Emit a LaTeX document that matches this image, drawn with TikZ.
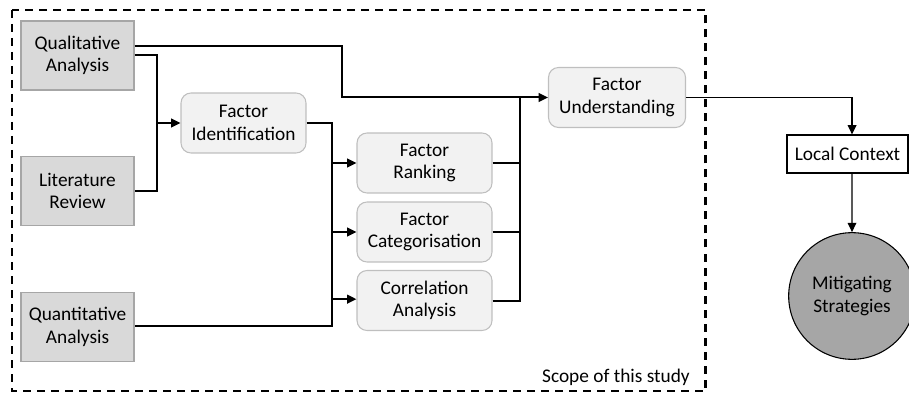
\documentclass[tikz,border=0pt]{standalone}
\usepackage{fontspec}
\setmainfont{Carlito}
\usetikzlibrary{arrows.meta,calc}
\definecolor{srcfill}{HTML}{D9D9D9}
\definecolor{srcdraw}{HTML}{A6A6A6}
\definecolor{procfill}{HTML}{F2F2F2}
\definecolor{procdraw}{HTML}{BFBFBF}
\definecolor{circfill}{HTML}{A6A6A6}
\begin{document}
\begin{tikzpicture}[x=0.75pt,y=-0.75pt,
  every node/.style={font=\fontsize{14.5}{16.8}\selectfont, align=center, inner sep=0pt},
  srcbox/.style={draw=srcdraw, fill=srcfill, line width=0.8pt, minimum width=84.75pt, minimum height=51.75pt},
  procbox/.style={draw=procdraw, fill=procfill, line width=0.8pt, rounded corners=7.5pt, minimum height=45pt},
  conn/.style={line width=1.5pt, black},
  arr/.style={conn, -{Triangle[length=7pt,width=6.5pt]}},
  thinarr/.style={line width=1pt, -{Triangle[length=7pt,width=6.5pt]}}
]
\useasboundingbox (0,0) rectangle (909,395);
\draw[line width=1.6pt, dash pattern=on 6pt off 4.5pt] (12,10) rectangle (705.5,391);

\node[srcbox] (qual) at (77.5,55.5) {Qualitative\\Analysis};
\node[srcbox] (lit) at (77.5,191) {Literature\\Review};
\node[srcbox] (quant) at (77.5,327) {Quantitative\\Analysis};

\node[procbox, minimum width=93.75pt] (fid) at (243.5,123) {Factor\\Identification};
\node[procbox, minimum width=101.25pt] (frank) at (424.5,163) {Factor\\Ranking};
\node[procbox, minimum width=101.25pt] (fcat) at (424.5,232) {Factor\\Categorisation};
\node[procbox, minimum width=101.25pt] (corr) at (424.5,300.5) {Correlation\\Analysis};
\node[procbox, minimum width=102.75pt] (fu) at (617,97.5) {Factor\\Understanding};

\node[draw, fill=white, line width=0.8pt, minimum width=90.75pt, minimum height=28.5pt] (lc) at (847.5,154) {Local Context};
\node[draw, circle, fill=circfill, line width=0.8pt, minimum size=95pt] (ms) at (852,296) {Mitigating\\Strategies};

\node[anchor=east] (scope) at (690,377) {Scope of this study};

\coordinate (j1) at (157,123);
\coordinate (j2) at (332,326);
\coordinate (j3) at (520,97.5);

\draw[arr] ([yshift=7pt]qual.east) -- ++(207,0) |- (fu.west);
\draw[conn] (qual.east) -| (j1) |- (lit.east);
\draw[arr] (j1) -- (fid.west);
\draw[conn] (fid.east) -| (j2) -- (quant.east |- j2);
\draw[arr] (frank.west -| j2) -- (frank.west);
\draw[arr] (fcat.west -| j2) -- (fcat.west);
\draw[arr] ([yshift=1pt]corr.west -| j2) -- ([yshift=1pt]corr.west);
\draw[conn] (frank.east) -| (j3);
\draw[conn] (fcat.east) -| (j3);
\draw[conn] (corr.east) -| (j3);
\draw[thinarr] (fu.east) -| ([xshift=3.4pt]lc.north);
\draw[thinarr] ([xshift=3.4pt]lc.south) -- (ms.north);
\end{tikzpicture}
\end{document}
